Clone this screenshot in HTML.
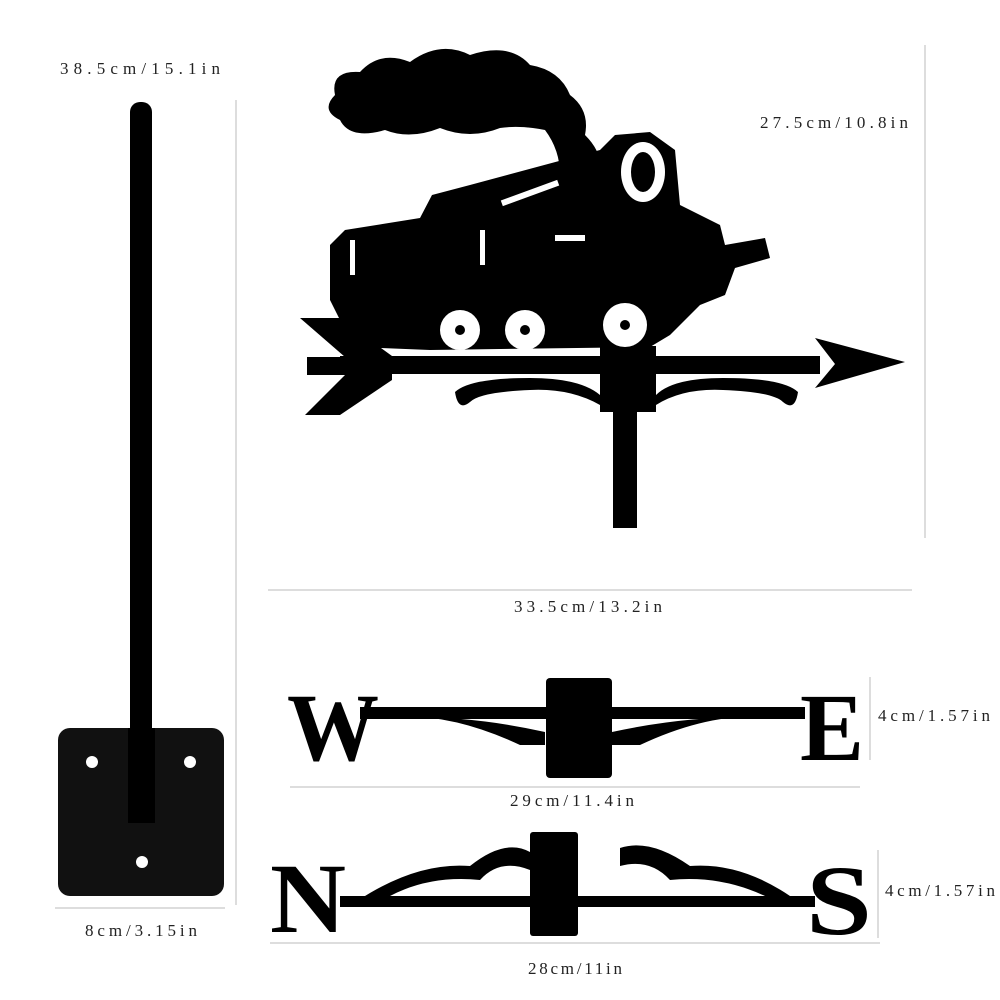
<!DOCTYPE html>
<html><head><style>
html,body{margin:0;padding:0;background:#fff;}
svg{display:block;}
text{font-family:"Liberation Serif",serif;font-size:17px;fill:#222;}
</style></head><body>
<svg width="1000" height="1000" viewBox="0 0 1000 1000">
<!-- left pole -->
<text x="60" y="74" textLength="160" lengthAdjust="spacing">38.5cm/15.1in</text>
<rect x="130" y="102" width="22" height="640" rx="10" fill="#000"/>
<rect x="58" y="728" width="166" height="168" rx="12" fill="#111"/>
<rect x="128" y="728" width="27" height="95" fill="#000"/>
<circle cx="92" cy="762" r="6" fill="#fff"/>
<circle cx="190" cy="762" r="6" fill="#fff"/>
<circle cx="142" cy="862" r="6" fill="#fff"/>
<line x1="236" y1="100" x2="236" y2="905" stroke="#bbb" stroke-width="1"/>
<line x1="55" y1="908" x2="225" y2="908" stroke="#bbb" stroke-width="1"/>
<text x="85" y="936" textLength="112" lengthAdjust="spacing">8cm/3.15in</text>

<!-- train -->
<g fill="#000">
<path d="M335,95 Q330,70 360,72 Q380,50 410,62 Q440,40 470,55 Q510,42 530,65 Q560,70 570,95 Q590,110 585,135 Q600,150 600,165 L560,175 Q560,150 545,130 Q520,125 500,128 Q470,140 440,128 Q410,140 385,130 Q350,140 340,120 Q320,110 335,95Z"/>
<path d="M330,245 L345,230 L420,218 L432,195 L470,185 L600,150 L615,135 L650,132 L675,150 L680,205 L720,225 L725,245 L765,238 L770,258 L735,268 L725,295 L700,305 L670,335 L650,347 L430,350 L380,348 L345,330 L330,300Z"/>
<path d="M300,318 L340,318 L392,356 L392,380 L340,415 L305,415 L345,375 L307,375 L307,357 L345,357Z"/>
<rect x="340" y="356" width="480" height="18"/>
<path d="M905,362 L815,338 L835,364 L815,388Z"/>
<rect x="600" y="346" width="56" height="66"/>
<rect x="613" y="400" width="24" height="128"/>
<path d="M455,392 Q470,378 530,378 Q580,378 600,395 L600,405 Q570,388 530,390 Q480,392 470,402 Q458,412 455,392Z"/>
<path d="M798,392 Q783,378 723,378 Q673,378 656,395 L656,405 Q683,388 723,390 Q773,392 783,402 Q795,412 798,392Z"/>
</g>
<g fill="#fff">
<circle cx="460" cy="330" r="20"/><circle cx="525" cy="330" r="20"/><circle cx="625" cy="325" r="22"/>
<ellipse cx="643" cy="172" rx="22" ry="30"/>
<rect x="500" y="190" width="60" height="6" transform="rotate(-20 530 193)"/>
<rect x="555" y="235" width="30" height="6"/>
<rect x="480" y="230" width="5" height="35"/>
<rect x="350" y="240" width="5" height="35"/>
</g>
<g fill="#000">
<circle cx="460" cy="330" r="5"/><circle cx="525" cy="330" r="5"/><circle cx="625" cy="325" r="5"/>
<ellipse cx="643" cy="172" rx="12" ry="20"/>
</g>
<line x1="925" y1="45" x2="925" y2="538" stroke="#bbb"/>
<text x="760" y="128" textLength="148" lengthAdjust="spacing">27.5cm/10.8in</text>
<line x1="268" y1="590" x2="912" y2="590" stroke="#bbb"/>
<text x="514" y="612" textLength="148" lengthAdjust="spacing">33.5cm/13.2in</text>

<!-- W E -->
<g fill="#000">
<text x="287" y="760" style="font-size:96px;font-weight:bold;fill:#000;font-family:'Liberation Serif',serif" textLength="92" lengthAdjust="spacingAndGlyphs">W</text>
<text x="800" y="760" style="font-size:96px;font-weight:bold;fill:#000;font-family:'Liberation Serif',serif" textLength="64" lengthAdjust="spacingAndGlyphs">E</text>
<rect x="360" y="707" width="445" height="12"/>
<path d="M390,717 Q450,712 520,745 L545,745 L545,732 Q470,715 390,717Z"/>
<path d="M770,717 Q710,712 640,745 L612,745 L612,732 Q690,715 770,717Z"/>
<rect x="546" y="678" width="66" height="100" rx="4"/>
</g>
<line x1="870" y1="677" x2="870" y2="760" stroke="#bbb"/>
<text x="878" y="721" textLength="112" lengthAdjust="spacing">4cm/1.57in</text>
<line x1="290" y1="787" x2="860" y2="787" stroke="#bbb"/>
<text x="510" y="806" textLength="124" lengthAdjust="spacing">29cm/11.4in</text>

<!-- N S -->
<g fill="#000">
<text x="270" y="932" style="font-size:100px;font-weight:bold;fill:#000;font-family:'Liberation Serif',serif" textLength="76" lengthAdjust="spacingAndGlyphs">N</text>
<text x="806" y="934" style="font-size:100px;font-weight:bold;fill:#000;font-family:'Liberation Serif',serif" textLength="66" lengthAdjust="spacingAndGlyphs">S</text>
<rect x="340" y="896" width="475" height="11"/>
<path d="M365,896 Q420,862 470,866 Q505,838 530,852 L530,870 Q500,858 480,880 Q430,875 390,896Z"/>
<path d="M790,896 Q740,862 690,866 Q650,838 620,848 L620,866 Q650,858 670,880 Q720,875 765,896Z"/>
<rect x="530" y="832" width="48" height="104" rx="3"/>
</g>
<line x1="878" y1="850" x2="878" y2="938" stroke="#bbb"/>
<text x="885" y="896" textLength="110" lengthAdjust="spacing">4cm/1.57in</text>
<line x1="270" y1="943" x2="880" y2="943" stroke="#bbb"/>
<text x="528" y="974" textLength="94" lengthAdjust="spacing">28cm/11in</text>
</svg>
</body></html>
